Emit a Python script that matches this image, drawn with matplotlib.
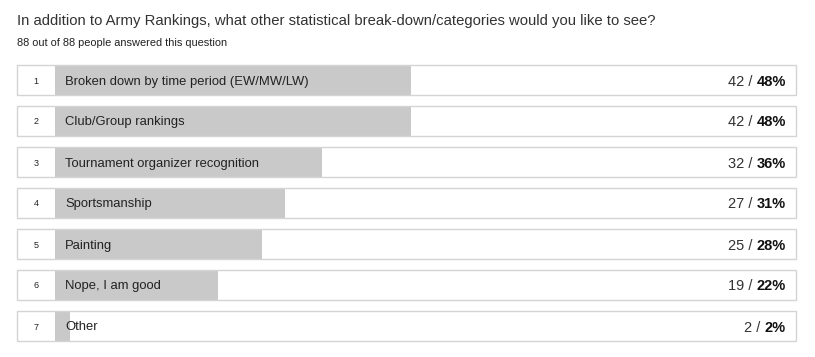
import matplotlib.pyplot as plt
from matplotlib.patches import Rectangle

plt.rcParams['font.family'] = ['Liberation Sans', 'DejaVu Sans']

title = "In addition to Army Rankings, what other statistical break-down/categories would you like to see?"
subtitle = "88 out of 88 people answered this question"

categories = ["Broken down by time period (EW/MW/LW)",
              "Club/Group rankings",
              "Tournament organizer recognition",
              "Sportsmanship",
              "Painting",
              "Nope, I am good",
              "Other"]
counts = [42, 42, 32, 27, 25, 19, 2]
percents = [48, 48, 36, 31, 28, 22, 2]

fig = plt.figure(figsize=(8.15, 3.57), dpi=100)
ax = fig.add_axes([0, 0, 1, 1])
ax.set_xlim(0, 815)
ax.set_ylim(357, 0)
ax.axis('off')

box_left = 17
box_right = 796
bar_left = 55
row_h = 30
row_top0 = 65
row_step = 41

ax.text(17, 20, title, fontsize=10.72, color='#333333', va='center_baseline')
ax.text(17, 42, subtitle, fontsize=7.9, color='#222222', va='center_baseline')

tops = [row_top0 + i * row_step for i in range(len(categories))]
centers = [t + row_h / 2 for t in tops]
widths = [p / 100 * (box_right - bar_left) for p in percents]

# grey bars
ax.barh(centers, widths, left=bar_left, height=row_h, color='#c9c9c9', zorder=1)

for i, (cat, c, p) in enumerate(zip(categories, counts, percents)):
    ax.add_patch(Rectangle((box_left, tops[i]), box_right - box_left, row_h,
                           fill=False, edgecolor='#d4d4d4', linewidth=1, zorder=2))
    ax.text(36, centers[i], str(i + 1), fontsize=6.5, color='#222222',
            ha='center', va='center_baseline', zorder=3)
    ax.text(65, centers[i], cat, fontsize=9.4, color='#222222',
            va='center_baseline', zorder=3)
    ax.text(786, centers[i], f"{p}%", fontsize=10.5, color='#111111', weight='bold',
            ha='right', va='center_baseline', zorder=3)
    t = ax.text(0, 0, f"{p}%", fontsize=10.5, weight='bold')
    fig.canvas.draw()
    bb = t.get_window_extent()
    t.remove()
    ax.text(786 - bb.width, centers[i], f"{c} / ", fontsize=10.5, color='#333333',
            ha='right', va='center_baseline', zorder=3)

fig.savefig("out.png", dpi=100)
